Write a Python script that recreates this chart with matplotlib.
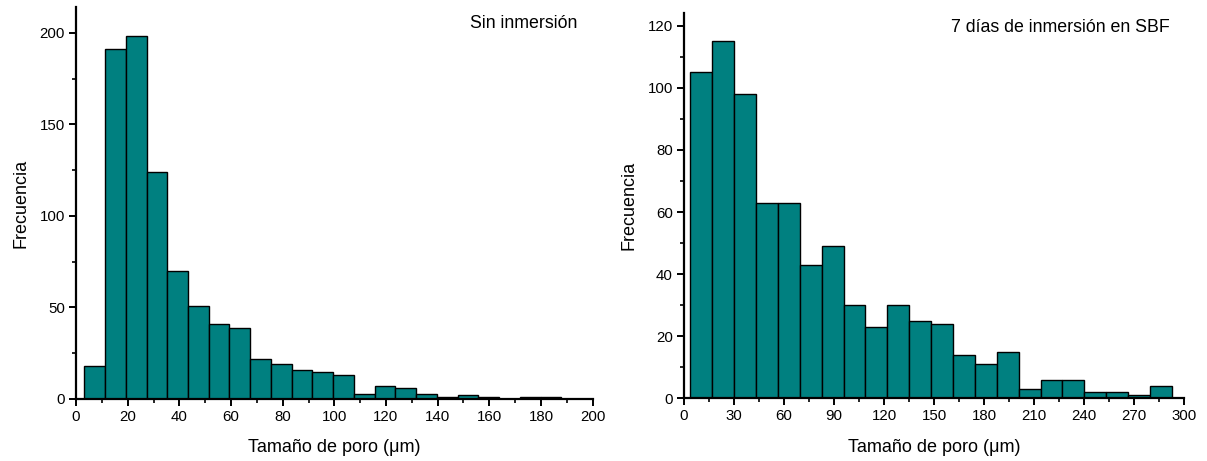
import numpy as np
import matplotlib
matplotlib.use("Agg")
import matplotlib.pyplot as plt
from matplotlib.ticker import MultipleLocator

plt.rcParams['font.family'] = ['Liberation Sans', 'DejaVu Sans']

# Sin inmersión: bins start at ~3.2 um, width ~8.03 um
left_start = 3.2
left_width = 8.03
left_counts = [18, 191, 198, 124, 70, 51, 41, 39, 22, 19, 16, 15, 13,
               3, 7, 6, 3, 1, 2, 1, 0, 1, 1]

# 7 días de inmersión en SBF: bins start at ~3.8 um, width ~13.13 um
right_start = 3.8
right_width = 13.13
right_counts = [105, 115, 98, 63, 63, 43, 49, 30, 23, 30, 25, 24,
                14, 11, 15, 3, 6, 6, 2, 2, 1, 4]

bar_color = '#008080'

fig = plt.figure(figsize=(12.07, 4.61), dpi=100)
ax1 = fig.add_axes([0.063, 0.1345, 0.428, 0.85])
ax2 = fig.add_axes([0.5667, 0.136, 0.4143, 0.835])


def draw_hist(ax, start, width, counts):
    edges = start + width * np.arange(len(counts))
    ax.bar(edges, counts, width=width, align='edge', color=bar_color,
           edgecolor='black', linewidth=1.0, zorder=2)


def style_axes(ax, xmax, xmaj, ymax, ymaj):
    ax.set_xlim(0, xmax)
    ax.set_ylim(0, ymax)
    ax.xaxis.set_major_locator(MultipleLocator(xmaj))
    ax.xaxis.set_minor_locator(MultipleLocator(xmaj / 2))
    ax.yaxis.set_major_locator(MultipleLocator(ymaj))
    ax.yaxis.set_minor_locator(MultipleLocator(ymaj / 2))
    for s in ['top', 'right']:
        ax.spines[s].set_visible(False)
    for s in ['left', 'bottom']:
        ax.spines[s].set_linewidth(1.6)
        ax.spines[s].set_zorder(3)
    ax.tick_params(which='major', direction='out', length=5, width=1.4,
                   labelsize=10.8, pad=3)
    ax.tick_params(which='minor', direction='out', length=3, width=1.2)
    ax.set_xlabel('Tamaño de poro (μm)', fontsize=13, labelpad=11)
    ax.set_ylabel('Frecuencia', fontsize=13, labelpad=7)


draw_hist(ax1, left_start, left_width, left_counts)
style_axes(ax1, 200, 20, 214, 50)
ax1.text(0.97, 0.957, 'Sin inmersión', transform=ax1.transAxes,
         ha='right', va='center', fontsize=12.8)

draw_hist(ax2, right_start, right_width, right_counts)
style_axes(ax2, 300, 30, 124, 20)
ax2.text(0.972, 0.964, '7 días de inmersión en SBF', transform=ax2.transAxes,
         ha='right', va='center', fontsize=12.8)

fig.savefig('out.png', dpi=100)
